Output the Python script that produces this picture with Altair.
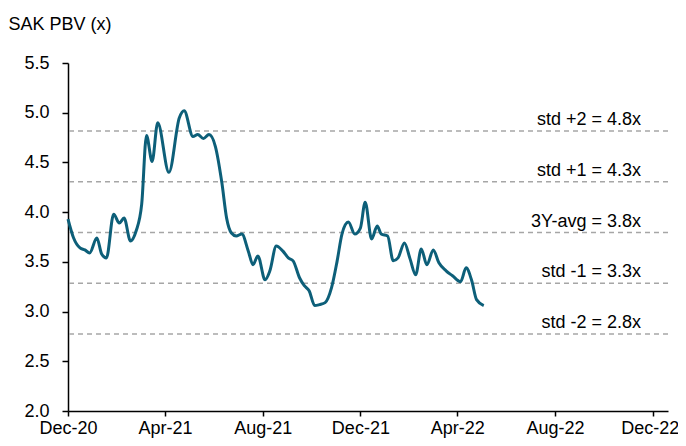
import altair as alt
import pandas as pd

dates = [
    "2020-12-01", "2020-12-08", "2020-12-16", "2020-12-22", "2020-12-28",
    "2021-01-06", "2021-01-12", "2021-01-18", "2021-01-27", "2021-02-03",
    "2021-02-09", "2021-02-17", "2021-02-24", "2021-03-03", "2021-03-09",
    "2021-03-16", "2021-03-23", "2021-04-06", "2021-04-19", "2021-04-25",
    "2021-05-06", "2021-05-12", "2021-05-19", "2021-05-26", "2021-06-03",
    "2021-06-11", "2021-06-17", "2021-06-23", "2021-06-29", "2021-07-06",
    "2021-07-14", "2021-07-20", "2021-07-26", "2021-08-04", "2021-08-10",
    "2021-08-18", "2021-08-26", "2021-09-02", "2021-09-08", "2021-09-16",
    "2021-09-22", "2021-09-28", "2021-10-05", "2021-10-11", "2021-10-18",
    "2021-10-26", "2021-11-02", "2021-11-08", "2021-11-16", "2021-11-24",
    "2021-12-01", "2021-12-07", "2021-12-15", "2021-12-22", "2021-12-27",
    "2022-01-04", "2022-01-11", "2022-01-17", "2022-01-25", "2022-02-01",
    "2022-02-08", "2022-02-15", "2022-02-22", "2022-03-02", "2022-03-09",
    "2022-03-18", "2022-03-26", "2022-04-05", "2022-04-12", "2022-04-19",
    "2022-04-25", "2022-05-04",
]
pbv = [
    3.93, 3.74, 3.64, 3.62, 3.59,
    3.74, 3.58, 3.54, 3.98, 3.89,
    3.94, 3.71, 3.81, 4.08, 4.77,
    4.51, 4.90, 4.40, 4.95, 5.02,
    4.76, 4.78, 4.74, 4.78, 4.66,
    4.30, 3.94, 3.79, 3.76, 3.78,
    3.61, 3.47, 3.56, 3.32, 3.41,
    3.66, 3.61, 3.54, 3.51, 3.34,
    3.26, 3.21, 3.06, 3.07, 3.09,
    3.24, 3.51, 3.78, 3.90, 3.78,
    3.84, 4.10, 3.73, 3.86, 3.78,
    3.76, 3.51, 3.54, 3.69, 3.53,
    3.37, 3.63, 3.47, 3.62, 3.49,
    3.41, 3.36, 3.30, 3.44, 3.31,
    3.12, 3.06,
]

band_values = [4.815, 4.305, 3.795, 3.285, 2.775]
band_labels = ["std +2 = 4.8x", "std +1 = 4.3x", "3Y-avg = 3.8x",
               "std -1 = 3.3x", "std -2 = 2.8x"]

tick_dates = [(2020, 12), (2021, 4), (2021, 8), (2021, 12),
              (2022, 4), (2022, 8), (2022, 12)]

FONT = "Arial, Liberation Sans"
FS = 18
LINE_COLOR = "#0d5f79"

df = pd.DataFrame({"date": dates, "pbv": pbv})
bands = pd.DataFrame({"v": band_values, "label": band_labels})

x_scale = alt.Scale(
    type="utc",
    domain=[alt.DateTime(year=2020, month=12, date=1, utc=True),
            alt.DateTime(year=2022, month=12, date=20, utc=True)],
)
y_scale = alt.Scale(domain=[2.0, 5.5], nice=False, zero=False)

x_axis = alt.Axis(
    values=[alt.DateTime(year=y, month=m, date=1, utc=True) for y, m in tick_dates],
    format="%b-%y", grid=False, title=None,
    domainColor="black", domainWidth=1.5, tickColor="black", tickWidth=1.5, tickSize=5,
    labelFont=FONT, labelFontSize=FS, labelColor="black", labelPadding=3,
    labelOverlap=False, labelFlush=False,
    labelOffset={"condition": {"test": "datum.value >= utc(2022, 10, 15)", "value": -3},
                 "value": 0},
)
y_axis = alt.Axis(
    values=[2.0, 2.5, 3.0, 3.5, 4.0, 4.5, 5.0, 5.5], format=".1f", grid=False,
    title="SAK PBV (x)", titleAngle=0, titleAlign="left", titleBaseline="alphabetic",
    titleX=-60, titleY=-34, titleFont=FONT, titleFontSize=FS, titleFontWeight="normal",
    titleColor="black",
    domainColor="black", domainWidth=1.5, tickColor="black", tickWidth=1.5, tickSize=6,
    labelFont=FONT, labelFontSize=FS, labelColor="black", labelPadding=13,
)

line = alt.Chart(df).mark_line(
    color=LINE_COLOR, strokeWidth=3, interpolate="monotone"
).encode(
    x=alt.X("date:T", scale=x_scale, axis=x_axis),
    y=alt.Y("pbv:Q", scale=y_scale, axis=y_axis),
)

rules = alt.Chart(bands).mark_rule(
    color="#a6a6a6", strokeWidth=1.5, strokeDash=[5, 4]
).encode(y=alt.Y("v:Q", scale=y_scale))

texts = alt.Chart(bands).mark_text(
    align="right", baseline="alphabetic", dy=-6,
    font=FONT, fontSize=FS, color="black"
).encode(
    y=alt.Y("v:Q", scale=y_scale),
    x=alt.value(573),
    text="label:N",
)

chart = alt.layer(rules, line, texts).properties(
    width=600, height=348,
    autosize=alt.AutoSizeParams(type="none"),
    padding={"left": 60, "top": 55, "right": 10, "bottom": 27},
).configure_view(stroke=None)

chart.save("out.html", embed_options={"renderer": "svg", "actions": False})
